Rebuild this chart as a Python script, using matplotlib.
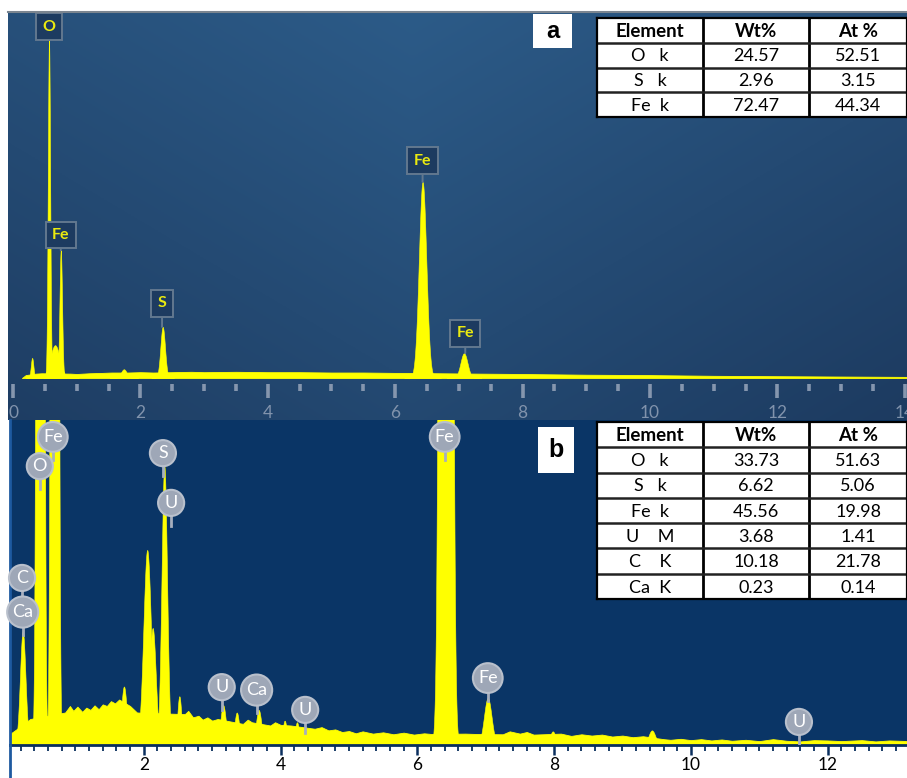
import numpy as np
import matplotlib
matplotlib.use("Agg")
import matplotlib.pyplot as plt
from matplotlib.patches import Rectangle
from matplotlib.lines import Line2D

plt.rcParams['font.family'] = ['Lato', 'DejaVu Sans']

W, H = 907, 778

# ---- spectrum (a): continuum and peaks (keV, relative counts, width) ----
bg_a_e = [0.14, 0.2, 0.36, 0.45, 0.9, 1.0, 1.2, 1.4, 1.55, 1.8, 2.0, 2.2, 2.5,
          2.8, 3.0, 3.5, 4.0, 4.5, 5.0, 5.5, 6.0, 6.2, 6.7, 7.3, 8.0, 9.0,
          10.0, 11.0, 12.0, 13.0, 14.1]
bg_a_v = [0.0, 0.8, 1.2, 1.3, 1.2, 1.1, 1.3, 1.4, 1.5, 1.5, 1.6, 1.5, 1.6,
          1.7, 1.6, 1.7, 1.6, 1.6, 1.5, 1.5, 1.4, 1.4, 1.3, 1.2, 1.1, 0.9,
          0.8, 0.6, 0.5, 0.4, 0.3]
peak_a_e = [0.30, 0.565, 0.66, 0.75, 1.74, 2.35, 6.43, 7.08]
peak_a_h = [5.5, 92.6, 9.0, 35.0, 2.4, 14.0, 53.7, 6.8]
peak_a_w = [0.02, 0.018, 0.075, 0.02, 0.045, 0.036, 0.058, 0.055]

# element markers for (a): name, keV, label height, peak top
lab_a = ["O", "Fe", "S", "Fe", "Fe"]
lab_a_e = [0.565, 0.75, 2.34, 6.43, 7.10]
lab_a_y = [96.3, 39.2, 20.5, 59.5, 12.3]
lab_a_top = [92.6, 35.0, 14.0, 53.7, 6.8]

# ---- spectrum (b) ----
bg_b_e = [0.05, 0.15, 0.34, 0.85, 0.92, 0.97, 1.03, 1.1, 1.16, 1.22, 1.28,
          1.34, 1.4, 1.46, 1.52, 1.58, 1.64, 1.8, 1.9, 2.6, 2.65, 2.72, 2.8,
          2.86, 2.93, 3.0, 3.08, 3.45, 3.52, 3.58, 3.85, 3.92, 4.0, 4.15,
          4.5, 4.6, 4.7, 4.8, 4.9, 5.0, 5.1, 5.2, 5.35, 5.5, 5.65, 5.8, 5.95,
          6.1, 6.2, 6.7, 6.85, 7.25, 7.35, 7.5, 7.6, 7.7, 8.1, 8.25, 8.4,
          8.55, 8.7, 8.85, 9.0, 9.15, 9.3, 9.6, 9.7, 9.85, 10.0, 10.15, 10.3,
          10.45, 10.6, 10.8, 11.0, 11.2, 11.4, 11.6, 11.8, 12.0, 12.2, 12.5,
          12.7, 12.9, 13.2]
bg_b_v = [3.5, 5.0, 8.0, 10.0, 12.0, 10.5, 11.8, 10.2, 11.5, 10.8, 12.2,
          11.0, 12.5, 12.0, 13.5, 12.8, 14.0, 12.0, 10.0, 9.5, 10.5, 8.5, 9.0,
          7.8, 8.5, 7.5, 8.0, 6.5, 7.8, 7.0, 6.0, 7.0, 6.2, 6.0,
          5.0, 5.5, 4.5, 4.8, 4.0, 4.3, 3.6, 4.2, 3.5, 3.9, 3.3, 3.8, 3.2,
          3.6, 3.4, 3.5, 3.4, 3.3, 4.2, 3.5, 4.0, 3.2, 3.5, 2.8, 3.3,
          2.9, 3.2, 2.6, 2.9, 2.4, 2.7, 1.8, 1.6, 1.9, 1.5, 1.8, 1.4,
          1.7, 1.3, 1.6, 1.2, 1.8, 1.3, 1.1, 1.5, 1.4, 1.2, 1.5,
          1.1, 1.4, 1.2]
peak_b_e = [0.23, 0.49, 0.70, 1.71, 2.05, 2.13, 2.30, 2.52, 3.16, 3.36,
            3.68, 4.06, 4.24, 6.42, 7.03, 7.98, 9.43]
peak_b_h = [35.0, 2000.0, 2000.0, 18.0, 60.0, 36.0, 86.0, 15.0, 12.3, 10.0,
            10.8, 7.5, 7.0, 2000.0, 14.5, 4.2, 4.5]
peak_b_w = [0.04, 0.03, 0.03, 0.04, 0.055, 0.045, 0.04, 0.03, 0.04, 0.035,
            0.04, 0.03, 0.03, 0.05, 0.055, 0.04, 0.05]

lab_b = ["C", "Ca", "O", "Fe", "S", "U", "U", "Ca", "U", "Fe", "Fe", "U"]
lab_b_e = [0.22, 0.23, 0.48, 0.67, 2.28, 2.40, 3.14, 3.65, 4.36, 6.40, 7.03, 11.58]
lab_b_y = [51.4, 40.9, 85.8, 94.8, 89.8, 74.5, 17.8, 16.9, 10.8, 94.8, 20.6, 7.1]

# ---- quantification tables ----
cols = ["Element", "Wt%", "At %"]
elem_a = ["O   k", "S   k", "Fe  k"]
wt_a = ["24.57", "2.96", "72.47"]
at_a = ["52.51", "3.15", "44.34"]
elem_b = ["O   k", "S   k", "Fe  k", "U    M", "C    K", "Ca  K"]
wt_b = ["33.73", "6.62", "45.56", "3.68", "10.18", "0.23"]
at_b = ["51.63", "5.06", "19.98", "1.41", "21.78", "0.14"]

YEL = "#ffff00"


def rect(x0, y0, x1, y1):
    return [x0 / W, 1 - y1 / H, (x1 - x0) / W, (y1 - y0) / H]


def draw_spectrum(ax, be, bv, pe, ph, pw):
    ax.fill_between(be, 0, bv, color=YEL, lw=0.6, edgecolor=YEL, zorder=2)
    for c, h, s in zip(pe, ph, pw):
        x = np.linspace(c - 5 * s, c + 5 * s, 300)
        y = h * np.exp(-0.5 * ((x - c) / s) ** 2)
        ax.fill_between(x, 0, y, color=YEL, lw=0.4, edgecolor=YEL, zorder=2)


def draw_table(rc, elems, wts, ats):
    tx = fig.add_axes(rect(*rc))
    n = len(elems) + 1
    tx.set_xlim(0, 1)
    tx.set_ylim(n, 0)
    tx.set_facecolor("white")
    for s in tx.spines.values():
        s.set_linewidth(1.6)
        s.set_color("black")
    tx.set_xticks([])
    tx.set_yticks([])
    bounds = [0, 0.342, 0.684, 1.0]
    for b in bounds[1:-1]:
        tx.axvline(b, color="black", lw=2)
    for r in range(1, n):
        tx.axhline(r, color="#222222", lw=1.8)
    rows = [cols] + [list(t) for t in zip(elems, wts, ats)]
    for r, row in enumerate(rows):
        for j, txt in enumerate(row):
            tx.text((bounds[j] + bounds[j + 1]) / 2, r + 0.55, txt,
                    ha="center", va="center",
                    fontsize=13.5 if r == 0 else 13, color="black",
                    fontweight="bold" if r == 0 else "normal")


fig = plt.figure(figsize=(W / 100, H / 100), dpi=100, facecolor="white")

# panel (a) background: soft gradient, lighter towards top centre
bg = fig.add_axes(rect(8, 12, 907, 420))
gy, gx = np.mgrid[0:1:200j, 0:1:300j]
shade = 0.55 * (1 - gy) + 0.45 * (1 - np.abs(gx - 0.45) * 1.6).clip(0, 1)
c_dark = np.array([0x1c, 0x39, 0x5e]) / 255
c_light = np.array([0x2c, 0x5b, 0x88]) / 255
img = c_dark + (c_light - c_dark) * shade[..., None]
bg.imshow(img, aspect="auto", extent=[0, 1, 0, 1], origin="upper")
bg.axis("off")
fig.add_artist(Line2D([8 / W, 1], [1 - 12 / H] * 2, color="#7b8590", lw=1.5))

ax_a = fig.add_axes(rect(8, 13, 907, 384))
ax_a.patch.set_alpha(0)
ax_a.set_xlim(-0.0785, 14.035)
ax_a.set_ylim(-1.64, 100)
draw_spectrum(ax_a, bg_a_e, bg_a_v, peak_a_e, peak_a_h, peak_a_w)
for s in ax_a.spines.values():
    s.set_visible(False)
ax_a.set_yticks([])
ax_a.set_xticks(range(0, 15, 2))
ax_a.set_xticks(np.arange(0, 14.01, 0.5), minor=True)
ax_a.tick_params(axis="x", which="major", direction="out", length=10, width=2.6,
                 color="#8596ae", labelcolor="#8193ac", labelsize=12.5, pad=5)
ax_a.tick_params(axis="x", which="minor", direction="out", length=5, width=2.6,
                 color="#8596ae")
for name, e, y, top in zip(lab_a, lab_a_e, lab_a_y, lab_a_top):
    ax_a.annotate(name, xy=(e, top), xytext=(e, y), ha="center", va="center",
                  fontsize=11.5, fontweight="bold", color="#eaea10", zorder=5,
                  bbox=dict(boxstyle="square,pad=0.4", fc="#1d3b60",
                            ec="#62788f", lw=1.4),
                  arrowprops=dict(arrowstyle="-", color="#62788f", lw=1.4,
                                  shrinkA=0, shrinkB=0))

# panel letter (a) and table
fig.patches.append(Rectangle((533 / W, 1 - 48 / H), 39 / W, 34 / H,
                             transform=fig.transFigure, fc="white", ec="none"))
fig.text(552.5 / W, 1 - 31 / H, "a", ha="center", va="center", fontsize=17,
         fontweight="bold", family="Liberation Sans", color="black")
draw_table((597, 18, 907, 117), elem_a, wt_a, at_a)

# panel (b)
ax_b = fig.add_axes(rect(10, 420, 907, 745))
ax_b.set_facecolor("#0a3566")
ax_b.set_xlim(0.044, 13.16)
ax_b.set_ylim(0, 100)
draw_spectrum(ax_b, bg_b_e, bg_b_v, peak_b_e, peak_b_h, peak_b_w)
for k in ["top", "right"]:
    ax_b.spines[k].set_visible(False)
ax_b.spines["bottom"].set_color("#0a2f5e")
ax_b.spines["bottom"].set_linewidth(2)
ax_b.spines["left"].set_color("#1e5aa0")
ax_b.spines["left"].set_linewidth(2)
ax_b.set_yticks([])
ax_b.set_xticks(range(2, 14, 2))
ax_b.set_xticks(np.arange(0.2, 13.1, 0.2), minor=True)
ax_b.tick_params(axis="x", which="major", direction="out", length=7, width=1.8,
                 color="#0a2f5e", labelcolor="black", labelsize=12.5, pad=2)
ax_b.tick_params(axis="x", which="minor", direction="out", length=4, width=1.3,
                 color="#0a2f5e")
fig.add_artist(Line2D([10 / W] * 2, [0, 1 - 745 / H], color="#1e5aa0", lw=2))

for name, e, y in zip(lab_b, lab_b_e, lab_b_y):
    ax_b.plot([e, e], [y - 7, y - 3], color="#a7afbe", lw=2, zorder=5)
    ax_b.text(e, y, name, ha="center", va="center", fontsize=13,
              color="white", zorder=6,
              bbox=dict(boxstyle="circle,pad=0.28", fc="#9ea7b7",
                        ec="#b9c0cc", lw=1.5))

fig.patches.append(Rectangle((538 / W, 1 - 473 / H), 36 / W, 46 / H,
                             transform=fig.transFigure, fc="white", ec="none"))
fig.text(556 / W, 1 - 450 / H, "b", ha="center", va="center", fontsize=18,
         fontweight="bold", family="Liberation Sans", color="black")
draw_table((597, 422, 907, 599), elem_b, wt_b, at_b)

fig.savefig("out.png", dpi=100, facecolor="white")
